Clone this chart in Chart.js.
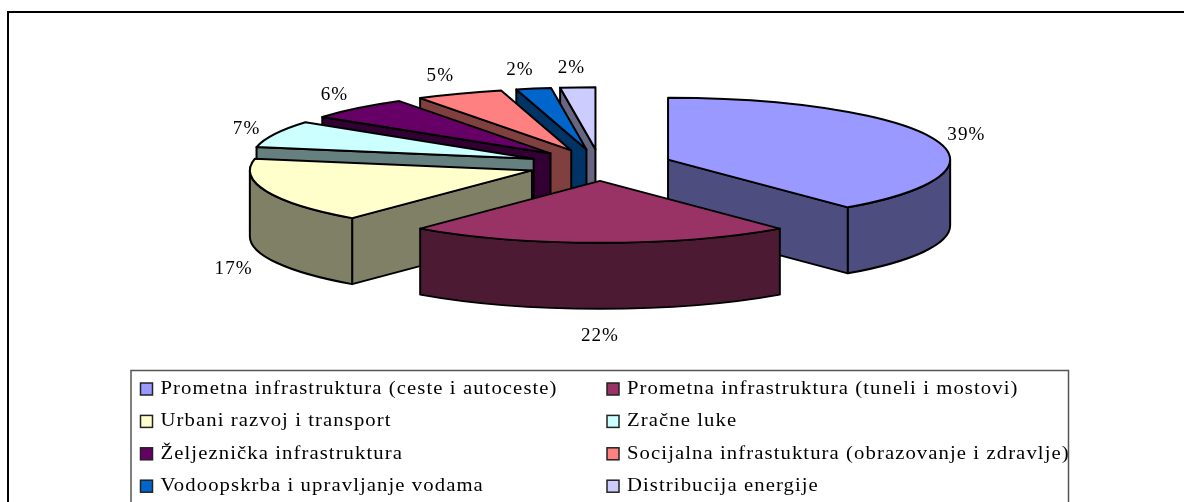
<!DOCTYPE html>
<html><head><meta charset="utf-8">
<style>html,body{margin:0;padding:0;background:#fff;overflow:hidden}canvas{display:block}</style>
<script src="https://cdn.jsdelivr.net/npm/chart.js@4"></script>
</head><body><canvas id="c" width="1184" height="502"></canvas>
<script>
const categories = ["Prometna infrastruktura (ceste i autoceste)","Prometna infrastruktura (tuneli i mostovi)","Urbani razvoj i transport","Zračne luke","Željeznička infrastruktura","Socijalna infrastuktura (obrazovanje i zdravlje)","Vodoopskrba i upravljanje vodama","Distribucija energije"];
const shares = [39,22,17,7,6,5,2,2];
const topColors = ["#9999FF","#993366","#FFFFCC","#CCFFFF","#660066","#FF8080","#0066CC","#CCCCFF"];
const sideColors = ["#4D4D80","#4D1A33","#808066","#668080","#330033","#804040","#003366","#666680"];
const paintOrder = [7,6,5,4,3,2,0,1];
const labelNudgeX = [0,0,0,4,1,-5,-7,-4];

const SX = 2.864, SY = 0.629, DEPTH = 66;
const FONT = '18px "Liberation Serif"';
const LEGEND_STRETCH = 1.15, LEGEND_SPACING = '0.94px', LABEL_STRETCH = 1.06, LABEL_SPACING = '1px';

const pie3d = {
  id:'pie3d',
  beforeDatasetDraw(){ return false; },
  afterDatasetsDraw(chart){
    const ctx = chart.ctx, arcs = chart.getDatasetMeta(0).data;
    ctx.save();
    ctx.lineWidth = 2; ctx.strokeStyle = '#000'; ctx.lineJoin = 'round';
    const geo = arcs.map(a=>{
      const mid=(a.startAngle+a.endAngle)/2, off=a.options.offset/4;
      return {a0:a.startAngle,a1:a.endAngle,mid,
        cx:a.x+SX*off*Math.cos(mid), cy:a.y+SY*off*Math.sin(mid),
        rx:a.outerRadius*SX, ry:a.outerRadius*SY};
    });
    const wall=(g,u,v,col)=>{
      ctx.beginPath();
      ctx.ellipse(g.cx,g.cy,g.rx,g.ry,0,u,v);
      ctx.ellipse(g.cx,g.cy+DEPTH,g.rx,g.ry,0,v,u,true);
      ctx.closePath(); ctx.fillStyle=col; ctx.fill(); ctx.stroke();
    };
    const flat=(g,ang,col)=>{
      ctx.beginPath();
      const x=g.cx+g.rx*Math.cos(ang), y=g.cy+g.ry*Math.sin(ang);
      ctx.moveTo(g.cx,g.cy); ctx.lineTo(x,y); ctx.lineTo(x,y+DEPTH); ctx.lineTo(g.cx,g.cy+DEPTH);
      ctx.closePath(); ctx.fillStyle=col; ctx.fill(); ctx.stroke();
    };
    paintOrder.forEach(i=>{
      const g=geo[i];
      if(-Math.cos(g.a0)>0) flat(g,g.a0,sideColors[i]);
      if(Math.cos(g.a1)>0) flat(g,g.a1,sideColors[i]);
      const u=Math.max(g.a0,0), v=Math.min(g.a1,Math.PI);
      if(v>u) wall(g,u,v,sideColors[i]);
      ctx.beginPath(); ctx.moveTo(g.cx,g.cy);
      ctx.ellipse(g.cx,g.cy,g.rx,g.ry,0,g.a0,g.a1);
      ctx.closePath(); ctx.fillStyle=topColors[i]; ctx.fill(); ctx.stroke();
    });
    ctx.fillStyle='#000'; ctx.font=FONT; ctx.letterSpacing=LABEL_SPACING; ctx.textAlign='center'; ctx.textBaseline='middle';
    geo.forEach((g,i)=>{
      const s=Math.sin(g.mid);
      const x=g.cx+(g.rx+35)*Math.cos(g.mid)+labelNudgeX[i], y=g.cy+(g.ry+23)*s+(s>0?DEPTH:0)+4;
      ctx.save(); ctx.translate(x,y); ctx.scale(LABEL_STRETCH,1);
      ctx.fillText(shares[i]+'%',0,0); ctx.restore();
    });
    ctx.restore();
  },
  afterDraw(chart){
    const ctx=chart.ctx; ctx.save();
    ctx.strokeStyle='#000'; ctx.lineWidth=2;
    ctx.beginPath(); ctx.moveTo(8,510); ctx.lineTo(8,12); ctx.lineTo(1190,12); ctx.stroke();
    ctx.lineWidth=1.5; ctx.strokeStyle='#555';
    ctx.beginPath(); ctx.rect(131,370.5,937.5,150); ctx.stroke();
    ctx.font=FONT; ctx.letterSpacing=LEGEND_SPACING; ctx.textAlign='left'; ctx.textBaseline='middle';
    categories.forEach((t,i)=>{
      const col=i%2, row=(i-col)/2;
      const x=col?607:140.5, y=389+row*32.4;
      ctx.fillStyle=topColors[i]; ctx.fillRect(x,y-6,12,12);
      ctx.strokeStyle='#222'; ctx.lineWidth=1.5; ctx.strokeRect(x,y-6,12,12);
      ctx.fillStyle='#000';
      ctx.save(); ctx.translate(x+20,y); ctx.scale(LEGEND_STRETCH,1);
      ctx.fillText(t,0,0); ctx.restore();
    });
    ctx.restore();
  }
};
new Chart(document.getElementById('c'),{
  type:'pie',
  data:{labels:categories,datasets:[{data:shares,backgroundColor:topColors,borderColor:'#000',offset:101}]},
  options:{responsive:false,animation:false,
    layout:{padding:{left:16,right:0,top:15,bottom:187}},
    plugins:{legend:{display:false},tooltip:{enabled:false}}},
  plugins:[pie3d]
});
</script></body></html>
